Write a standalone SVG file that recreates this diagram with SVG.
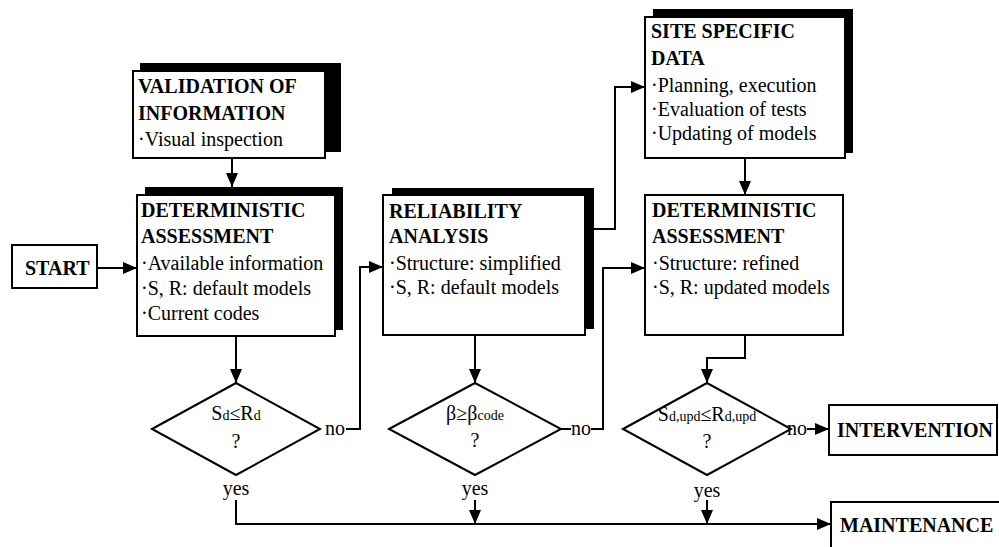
<svg xmlns="http://www.w3.org/2000/svg" width="999" height="547" viewBox="0 0 999 547" font-family="'Liberation Serif', 'Times New Roman', 'DejaVu Serif', serif">
<defs>
<marker id="ah" viewBox="0 0 14 12" refX="14" refY="6" markerWidth="14" markerHeight="12" markerUnits="userSpaceOnUse" orient="auto">
<path d="M0,0 L14,6 L0,12 Z" fill="#000"/>
</marker>
<style>
.box{fill:#fff;stroke:#000;stroke-width:2}
.sh{fill:#000}
text{font-family:'Liberation Serif','Times New Roman','DejaVu Serif',serif;font-size:20px;fill:#000}
.b{font-weight:bold}
.c{text-anchor:middle}
.s{font-size:14px}
.ln{fill:none;stroke:#000;stroke-width:2}
</style>
</defs>
<rect width="999" height="547" fill="#fff"/>

<g id="connectors">
<path class="ln" d="M232,158 V187" marker-end="url(#ah)"/>
<path class="ln" d="M97,268 H137" marker-end="url(#ah)"/>
<path class="ln" d="M236,336 V383" marker-end="url(#ah)"/>
<path class="ln" d="M346,429 H360 V267 H383" marker-end="url(#ah)"/>
<path class="ln" d="M475,335 V383" marker-end="url(#ah)"/>
<path class="ln" d="M561,429 H571"/>
<path class="ln" d="M591,429 H603 V268 H645" marker-end="url(#ah)"/>
<path class="ln" d="M594,229 H615 V87 H645" marker-end="url(#ah)"/>
<path class="ln" d="M745,158 V195" marker-end="url(#ah)"/>
<path class="ln" d="M745,335 V358 H707 V383" marker-end="url(#ah)"/>
<path class="ln" d="M807,429 H829" marker-end="url(#ah)"/>
<path class="ln" d="M236,500 V524 H831" marker-end="url(#ah)"/>
<path class="ln" d="M475,500 V524" marker-end="url(#ah)"/>
<path class="ln" d="M707,500 V524" marker-end="url(#ah)"/>
</g>

<g id="start">
<rect class="box" x="12" y="245" width="85" height="43"/>
<text class="b" x="25" y="275">START</text>
</g>

<g id="validation">
<rect class="sh" x="140" y="63" width="201" height="89"/>
<rect class="box" x="133" y="71" width="192" height="87"/>
<text class="b" x="138" y="93">VALIDATION OF</text>
<text class="b" x="138" y="120">INFORMATION</text>
<text x="138" y="146">·Visual inspection</text>
</g>

<g id="det1">
<rect class="sh" x="145" y="187" width="198" height="143"/>
<rect class="box" x="137" y="195" width="198" height="141"/>
<text class="b" x="141" y="217">DETERMINISTIC</text>
<text class="b" x="141" y="243">ASSESSMENT</text>
<text x="141" y="270">·Available information</text>
<text x="141" y="295">·S, R: default models</text>
<text x="141" y="320">·Current codes</text>
</g>

<g id="reliability">
<rect class="sh" x="392" y="188" width="202" height="141"/>
<rect class="box" x="383" y="195" width="202" height="140"/>
<text class="b" x="389" y="218">RELIABILITY</text>
<text class="b" x="389" y="243">ANALYSIS</text>
<text x="389" y="270">·Structure: simplified</text>
<text x="389" y="294">·S, R: default models</text>
</g>

<g id="site">
<rect class="sh" x="653" y="9" width="200" height="144"/>
<rect class="box" x="645" y="17" width="200" height="141"/>
<text class="b" x="651" y="38">SITE SPECIFIC</text>
<text class="b" x="651" y="65">DATA</text>
<text x="651" y="92">·Planning, execution</text>
<text x="651" y="116">·Evaluation of tests</text>
<text x="651" y="140">·Updating of models</text>
</g>

<g id="det2">
<rect class="box" x="645" y="195" width="198" height="140"/>
<text class="b" x="652" y="217">DETERMINISTIC</text>
<text class="b" x="652" y="243">ASSESSMENT</text>
<text x="652" y="270">·Structure: refined</text>
<text x="652" y="294">·S, R: updated models</text>
</g>

<g id="dec1">
<polygon class="box" points="152,429 236,383 320,429 236,475"/>
<text class="c" x="236" y="420">S<tspan class="s">d</tspan>≤R<tspan class="s">d</tspan></text>
<text class="c" x="236" y="448">?</text>
<text x="325" y="435">no</text>
<text class="c" x="236" y="495">yes</text>
</g>

<g id="dec2">
<polygon class="box" points="389,429 475,383 561,429 475,475"/>
<text class="c" x="475" y="420">β≥β<tspan class="s">code</tspan></text>
<text class="c" x="475" y="447">?</text>
<text x="571" y="435">no</text>
<text class="c" x="475" y="495">yes</text>
</g>

<g id="dec3">
<polygon class="box" points="623,429 707,383 791,429 707,475"/>
<text class="c" x="707" y="421">S<tspan class="s">d,upd</tspan>≤R<tspan class="s">d,upd</tspan></text>
<text class="c" x="707" y="448">?</text>
<text x="787" y="435">no</text>
<text class="c" x="707" y="497">yes</text>
</g>

<g id="intervention">
<rect class="box" x="829" y="405" width="168" height="50"/>
<text class="b" x="837" y="437">INTERVENTION</text>
</g>

<g id="maintenance">
<rect class="box" x="831" y="502" width="180" height="60"/>
<text class="b" x="840" y="532">MAINTENANCE</text>
</g>
</svg>
